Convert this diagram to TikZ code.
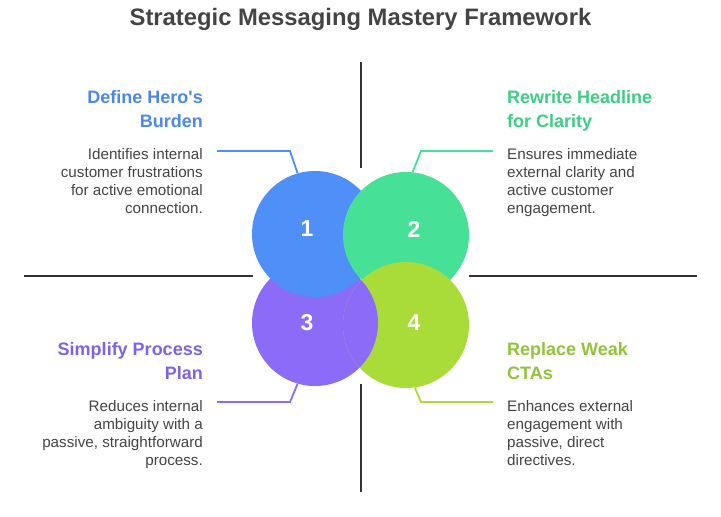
\documentclass[tikz,border=0pt]{standalone}
\usepackage{fontspec}
\setmainfont{Liberation Sans}[Ligatures=TeXOff]
\definecolor{cblue}{HTML}{4F8FF8}
\definecolor{cgreen}{HTML}{46E197}
\definecolor{cpurple}{HTML}{8A6CF8}
\definecolor{clime}{HTML}{AADC39}
\definecolor{hblue}{HTML}{4A88EC}
\definecolor{hgreen}{HTML}{3ECD85}
\definecolor{hpurple}{HTML}{7E62EE}
\definecolor{hlime}{HTML}{92C43A}
\definecolor{txt}{HTML}{444444}
\definecolor{axis}{HTML}{333333}
\begin{document}
\begin{tikzpicture}[x=1pt,y=-1pt,
  blob/.style={circle,minimum size=126pt,inner sep=0pt},
  num/.style={text=white,font=\fontsize{23}{26}\selectfont\bfseries,inner sep=0pt},
  headR/.style={anchor=north east,align=right,inner sep=0pt,font=\fontsize{18}{24}\selectfont\bfseries},
  headL/.style={anchor=north west,align=left,inner sep=0pt,font=\fontsize{18}{24}\selectfont\bfseries},
  bodyR/.style={anchor=north east,align=right,inner sep=0pt,text=txt,font=\fontsize{15.2}{18}\selectfont},
  bodyL/.style={anchor=north west,align=left,inner sep=0pt,text=txt,font=\fontsize{15.2}{18}\selectfont},
  axisline/.style={draw=axis,line width=1.6pt},
  conn/.style={line width=1.8pt}]
\useasboundingbox[fill=white] (0,0) rectangle (721,517);
\node[text=txt,font=\fontsize{23.8}{28}\selectfont\bfseries,inner sep=0pt] (title) at (360.5,19) {Strategic Messaging Mastery Framework};
% axis lines
\coordinate (vt1) at (361,62); \coordinate (vt2) at (361,168);
\coordinate (vb1) at (361,384); \coordinate (vb2) at (361,492);
\coordinate (hl1) at (24,276); \coordinate (hl2) at (253,276);
\coordinate (hr1) at (469,276); \coordinate (hr2) at (697,276);
\draw[axisline] (vt1) -- (vt2);
\draw[axisline] (vb1) -- (vb2);
\draw[axisline] (hl1) -- (hl2);
\draw[axisline] (hr1) -- (hr2);
% circles
\node[blob,fill=cpurple] (c3) at (315,323) {};
\node[blob,fill=cblue] (c1) at (315,234) {};
\node[blob,fill=cgreen] (c2) at (406,235) {};
\node[blob,fill=clime] (c4) at (406,325) {};
\begin{scope}
\clip (406,325) circle (63pt);
\fill[cpurple] (315,323) circle (63pt);
\end{scope}
\node[num] (n1) at (307,229) {1};
\node[num] (n2) at (414,229) {2};
\node[num] (n3) at (307,323) {3};
\node[num] (n4) at (414,323) {4};
% texts
\node[headR,text=hblue] (h1) at (203,90.5) {Define Hero's\\Burden};
\node[bodyR] (b1) at (203,148) {Identifies internal\\customer frustrations\\for active emotional\\connection.};
\node[headL,text=hgreen] (h2) at (507,90.5) {Rewrite Headline\\for Clarity};
\node[bodyL] (b2) at (507,148) {Ensures immediate\\external clarity and\\active customer\\engagement.};
\node[headR,text=hpurple] (h3) at (203,342.5) {Simplify Process\\Plan};
\node[bodyR] (b3) at (203,400) {Reduces internal\\ambiguity with a\\passive, straightforward\\process.};
\node[headL,text=hlime] (h4) at (507,342.5) {Replace Weak\\CTAs};
\node[bodyL] (b4) at (507,400) {Enhances external\\engagement with\\passive, direct\\directives.};
% connectors
\coordinate (k1a) at (217,151); \coordinate (k1b) at (290,151);
\coordinate (k2a) at (493,151); \coordinate (k2b) at (421,151);
\coordinate (k3a) at (217,402); \coordinate (k3b) at (290,402);
\coordinate (k4a) at (493,402); \coordinate (k4b) at (421,402);
\draw[conn,draw=cblue] (k1a) -- (k1b) -- (c1.106);
\draw[conn,draw=cgreen] (k2a) -- (k2b) -- (c2.84);
\draw[conn,draw=cpurple] (k3a) -- (k3b) -- (c3.-106);
\draw[conn,draw=clime] (k4a) -- (k4b) -- (c4.-82);
\end{tikzpicture}
\end{document}
